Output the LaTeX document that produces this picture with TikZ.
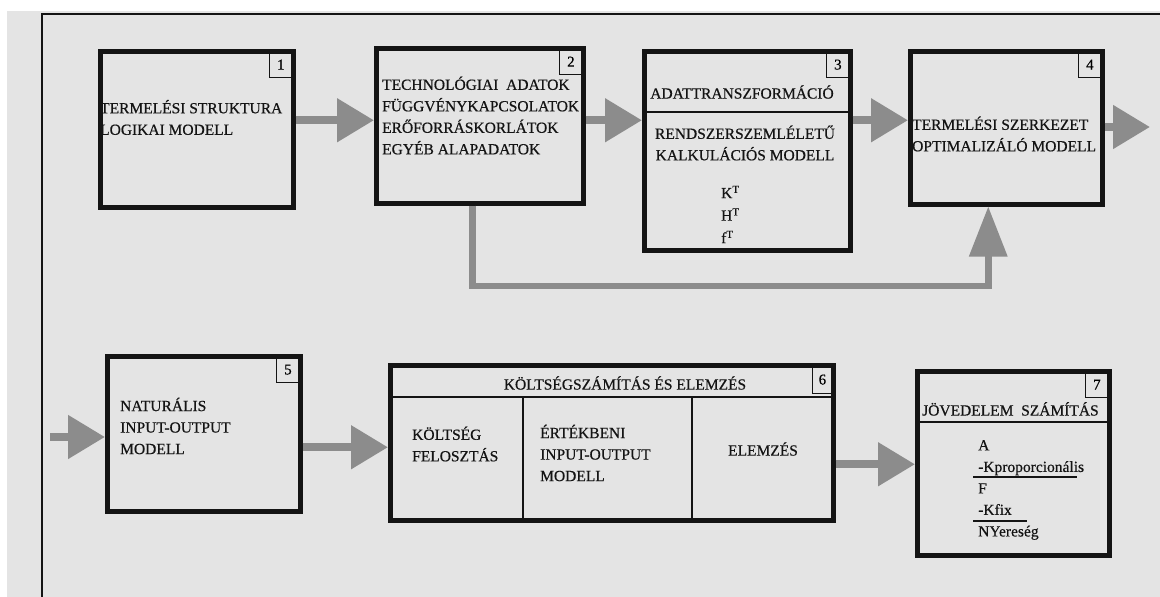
\documentclass[tikz,border=0pt]{standalone}
\usepackage{fontspec}
\setmainfont{Liberation Serif}[FakeBold=0.5]
\usetikzlibrary{arrows.meta}
\definecolor{bg}{HTML}{E4E4E4}
\definecolor{arr}{HTML}{8C8C8C}
\definecolor{ink}{HTML}{141414}

\begin{document}
\begin{tikzpicture}[x=1pt,y=-1pt,
  box/.style={draw=ink,line width=4.5pt,inner sep=0pt,anchor=north west},
  num/.style={draw=ink,line width=1.2pt,minimum width=23pt,minimum height=25pt,inner sep=0pt,anchor=north east,font=\fontsize{15}{15}\selectfont},
  txt/.style={text=ink,inner sep=0pt,align=left,font=\fontsize{15.5}{21.5}\selectfont},
  flow/.style={draw=arr,line width=8pt,-{Triangle[length=37pt,width=42pt]}},
  fb/.style={draw=arr,line width=6.5pt,line join=miter,-{Triangle[length=50pt,width=37pt]}},
  sep/.style={draw=ink,line width=1.5pt}]
\useasboundingbox (0,0) rectangle (1160,597);
\fill[white] (0,0) rectangle (1160,597); \fill[bg] (7,11) rectangle (1160,597);
\draw[line width=1.5pt,ink] (42,597) -- (42,14) -- (1160,14);

% upper row
\node[box,minimum width=193pt,minimum height=156pt] (b1) at (98,49) {};
\node[box,minimum width=207pt,minimum height=155pt] (b2) at (374,46) {};
\node[box,minimum width=206pt,minimum height=199pt] (b3) at (642,49) {};
\node[box,minimum width=192pt,minimum height=153pt] (b4) at (908,49) {};
\node[num] (n1) at ([shift={(-2.5pt,-2.5pt)}]b1.north east) {1};
\node[num] (n2) at ([shift={(-2.5pt,-2.5pt)}]b2.north east) {2};
\node[num] (n3) at ([shift={(-2.5pt,-2.5pt)}]b3.north east) {3};
\node[num] (n4) at ([shift={(-2.5pt,-2.5pt)}]b4.north east) {4};
\draw[sep] (b3.west |- 0,112) -- (b3.east |- 0,112);

\node[txt,anchor=west] (t1) at (100,117.5) {TERMELÉSI STRUKTURA\\LOGIKAI MODELL};
\node[txt,anchor=west] (t2) at (382,115.5) {TECHNOLÓGIAI\ \ ADATOK\\FÜGGVÉNYKAPCSOLATOK\\ERŐFORRÁSKORLÁTOK\\EGYÉB ALAPADATOK};
\node[txt] (t3a) at (742,92) {ADATTRANSZFORMÁCIÓ};
\node[txt,align=center] (t3b) at (745,143) {RENDSZERSZEMLÉLETŰ\\KALKULÁCIÓS MODELL};
\node[txt,anchor=west,font=\fontsize{15.5}{22.5}\selectfont] (t3c) at (721,214.5) {K\textsuperscript{T}\\H\textsuperscript{T}\\f\textsuperscript{T}};
\node[txt,anchor=west] (t4) at (912,134) {TERMELÉSI SZERKEZET\\OPTIMALIZÁLÓ MODELL};

% lower row
\node[box,minimum width=193pt,minimum height=155pt] (b5) at (105,354) {};
\node[box,minimum width=443pt,minimum height=155pt] (b6) at (388,363) {};
\node[box,minimum width=192pt,minimum height=184pt] (b7) at (915,369) {};
\node[num] (n5) at ([shift={(-2.5pt,-2.5pt)}]b5.north east) {5};
\node[num,minimum width=20pt,minimum height=27pt] (n6) at ([shift={(-2.5pt,-2.5pt)}]b6.north east) {6};
\node[num] (n7) at ([shift={(-2.5pt,-2.5pt)}]b7.north east) {7};
\draw[sep] (b6.west |- 0,397) -- (b6.east |- 0,397);
\draw[sep] (523,397) -- (b6.south -| 523,0); \draw[sep] (692,397) -- (b6.south -| 692,0);
\draw[sep] (b7.west |- 0,422) -- (b7.east |- 0,422);

\node[txt,anchor=west] (t5) at (120,426) {NATURÁLIS\\INPUT-OUTPUT\\MODELL};
\node[txt] (t6) at (625,383) {KÖLTSÉGSZÁMÍTÁS ÉS ELEMZÉS};
\node[txt,anchor=west] (t6a) at (412,444) {KÖLTSÉG\\FELOSZTÁS};
\node[txt,anchor=west] (t6b) at (540,453) {ÉRTÉKBENI\\INPUT-OUTPUT\\MODELL};
\node[txt] (t6c) at (763,449) {ELEMZÉS};
\node[txt,anchor=west] (t7) at (922,409) {JÖVEDELEM\ \ SZÁMÍTÁS};
\node[txt,anchor=west] (t7a) at (978,490) {A\\-Kproporcionális\\F\\-Kfix\\NYereség};
\draw[sep] (973,477) -- (1077,477); \draw[sep] (973,521) -- (1027,521);

% arrows
\coordinate (out) at (1150,127); \coordinate (in) at (50,437);
\draw[flow] ([yshift=9pt]b1.east) -- ([yshift=9pt]b1.east -| b2.west);
\draw[flow] ([yshift=5.5pt]b2.east) -- ([yshift=5.5pt]b2.east -| b3.west);
\draw[flow] ([yshift=30.5pt]b3.east) -- ([yshift=30.5pt]b3.east -| b4.west);
\draw[flow] (b4.east |- out) -- (out);
\draw[flow] (in) -- (in -| b5.west);
\draw[flow] ([yshift=-13.5pt]b5.east) -- ([yshift=-13.5pt]b5.east -| b6.west);
\draw[flow] ([yshift=-21.5pt]b6.east) -- ([yshift=-21.5pt]b6.east -| b7.west);
\path ([xshift=-7.5pt]b2.south) coordinate (f1) ([xshift=-18pt]b4.south) coordinate (f2);
\draw[fb] (f1) -- (f1 |- 0,286) -| (f2);

\end{tikzpicture}
\end{document}
